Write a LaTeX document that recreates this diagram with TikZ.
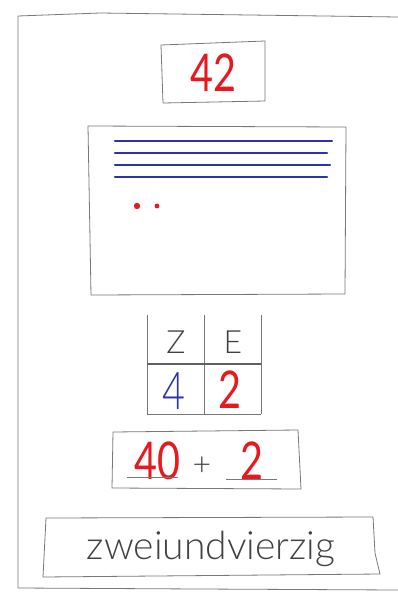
\documentclass[tikz,border=0pt]{standalone}
\usepackage{fontspec}
\setmainfont{Lato}
\newfontfamily\handfont{Lato}
\newfontfamily\printfont{Lato Light}
\usepackage{xcolor}
\usetikzlibrary{positioning}
\definecolor{penred}{RGB}{232, 24, 30}
\definecolor{penblue}{RGB}{45, 50, 175}
\definecolor{pencil}{RGB}{120, 120, 120}
\definecolor{printgray}{RGB}{65, 65, 65}

\tikzset{
    sketch/.style={draw=pencil, line width=0.8pt, line join=round},
    hand/.style={inner sep=0pt, xscale=0.76, transform shape, font=\handfont\fontsize{52}{52}\selectfont},
    thinhand/.style={hand, font=\printfont\fontsize{52}{52}\selectfont},
    print/.style={inner sep=0pt, text=printgray, font=\printfont\fontsize{32}{32}\selectfont}
}

\begin{document}
\begin{tikzpicture}[x=1pt, y=-1pt]
    \useasboundingbox (0,0) rectangle (398,600);

    % Frame
    \draw[sketch] (398,17) -- (250,15) -- (100,13) -- (18,16) -- (18,588) -- (200,589) -- (398,590);

    % Number box
    \draw[sketch] (161,45) -- (265,41) -- (265,101) -- (163,103) -- cycle;
    \node[hand, text=penred] (zahl) at (213,73) {42};

    % Dot picture
    \draw[sketch] (88,126) -- (346,127) -- (345,294) -- (91,295) -- cycle;
    \foreach \y/\e in {141/332, 153/327, 165/330, 177/327} {
        \draw[penblue, line width=2.2pt, line cap=round] (115,\y) -- (\e,\y);
    }
    \fill[penred] (137,206) circle (3.2pt);
    \fill[penred] (157,206) circle (2.4pt);

    % Place value table
    \foreach \x in {147, 204, 261} {
        \draw[sketch] (\x,315) -- (\x,414);
    }
    \draw[draw=pencil!80!black, line width=2pt] (147,364) -- (261,364);
    \draw[sketch] (147,414) -- (261,414);
    \node[print] (zehner) at (176,342) {Z};
    \node[print] (einer) at (233,342) {E};
    \node[thinhand, text=penblue] (zehnerwert) at (174,391) {4};
    \node[hand, text=penred] (einerwert) at (230,390) {2};

    % Sum box
    \draw[sketch] (113,432) -- (298,430) -- (301,489) -- (112,488) -- cycle;
    \node[hand, text=penred] (zehnersumme) at (157,461) {40};
    \node[print] (plus) at (202,466) {+};
    \node[hand, text=penred] (einersumme) at (252,461) {2};
    \draw[sketch] (127,477) -- (178,477);
    \draw[sketch] (226,479) -- (277,479);

    % Word box
    \draw[sketch] (46,518) -- (373,517) -- (375,553) -- (380,574) -- (43,577) -- cycle;
    \node[print, font=\printfont\fontsize{39}{39}\selectfont] (wort) at (211,549) {zweiundvierzig};
\end{tikzpicture}
\end{document}
